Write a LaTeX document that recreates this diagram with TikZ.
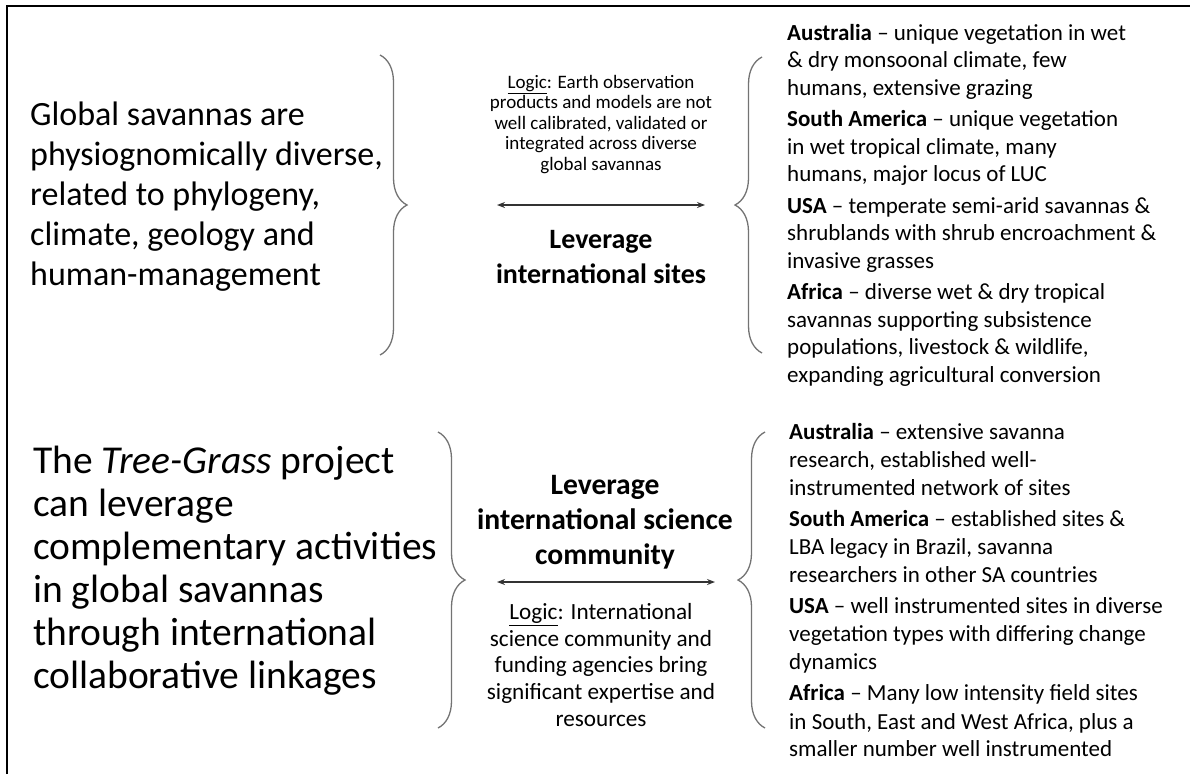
\documentclass[tikz,border=0pt]{standalone}
\usepackage{fontspec}
\setmainfont{Carlito}
\usetikzlibrary{arrows.meta,decorations.pathreplacing}

\begin{document}
\begin{tikzpicture}[x=1pt,y=-1pt,
  grande/.style={inner sep=0pt, align=left, anchor=west},
  logica/.style={inner sep=0pt, align=center},
  palanca/.style={inner sep=0pt, align=center, font=\bfseries\fontsize{28}{35}\selectfont},
  sitios/.style={inner sep=0pt, align=left, anchor=west, font=\fontsize{23}{27.5}\selectfont},
  llave/.style={draw=black!55, line width=1.3pt, decorate, decoration={brace, amplitude=27pt}},
  flecha/.style={draw=black!80, line width=1.5pt, {Stealth[length=8pt,width=6pt]}-{Stealth[length=8pt,width=6pt]}}]
\useasboundingbox (0,0) rectangle (1190,774);

% Marco: solo arriba y a la izquierda
\draw[line width=2pt] (7,774) -- (7,6) -- (1190,6);

% Bloque superior
\node[grande, font=\fontsize{34}{40}\selectfont] (glob) at (30,197)
  {Global savannas are\\physiognomically diverse,\\related to phylogeny,\\climate, geology and\\human-management};
\node[logica, font=\fontsize{19}{20.5}\selectfont] (logic1) at (601,124.5)
  {\underline{Logic}: Earth observation\\products and models are not\\well calibrated, validated or\\integrated across diverse\\global savannas};
\node[palanca] (lev1) at (601,257.5) {Leverage\\international sites};
\node[sitios] (sites1) at (787,205)
  {\textbf{Australia} – unique vegetation in wet\\\& dry monsoonal climate, few\\humans, extensive grazing\\[4pt]
   \textbf{South America} – unique vegetation\\in wet tropical climate, many\\humans, major locus of LUC\\[4pt]
   \textbf{USA} – temperate semi-arid savannas \&\\shrublands with shrub encroachment \&\\invasive grasses\\[4pt]
   \textbf{Africa} – diverse wet \& dry tropical\\savannas supporting subsistence\\populations, livestock \& wildlife,\\expanding agricultural conversion};

% Llaves y flecha doble del bloque superior
\coordinate (b1a) at (380,55);  \coordinate (b1b) at (380,355);
\coordinate (b2a) at (762,57);  \coordinate (b2b) at (762,353);
\coordinate (f1w) at (497,205); \coordinate (f1e) at (705,205);
\draw[llave] (b1a) -- (b1b);
\draw[llave] (b2b) -- (b2a);
\draw[flecha] (f1w) -- (f1e);

% Bloque inferior
\node[grande, font=\fontsize{39.5}{43}\selectfont] (tree) at (33,571)
  {The \textit{Tree-Grass} project\\can leverage\\complementary activities\\in global savannas\\through international\\collaborative linkages};
\node[palanca, font=\bfseries\fontsize{29.6}{35}\selectfont] (lev2) at (605,522) {Leverage\\international science\\community};
\node[logica, font=\fontsize{23.2}{26.7}\selectfont] (logic2) at (601,665)
  {\underline{Logic}: International\\science community and\\funding agencies bring\\significant expertise and\\resources};
\node[sitios, font=\fontsize{23}{28}\selectfont] (sites2) at (789,590.5)
  {\textbf{Australia} – extensive savanna\\research, established well-\\instrumented network of sites\\[3pt]
   \textbf{South America} – established sites \&\\LBA legacy in Brazil, savanna\\researchers in other SA countries\\[3pt]
   \textbf{USA} – well instrumented sites in diverse\\vegetation types with differing change\\dynamics\\[3pt]
   \textbf{Africa} – Many low intensity field sites\\in South, East and West Africa, plus a\\smaller number well instrumented};

% Llaves y flecha doble del bloque inferior
\coordinate (b3a) at (438,432); \coordinate (b3b) at (438,728);
\coordinate (b4a) at (765,432); \coordinate (b4b) at (765,728);
\coordinate (f2w) at (497,582); \coordinate (f2e) at (715,582);
\draw[llave] (b3a) -- (b3b);
\draw[llave] (b4b) -- (b4a);
\draw[flecha] (f2w) -- (f2e);
\end{tikzpicture}
\end{document}
